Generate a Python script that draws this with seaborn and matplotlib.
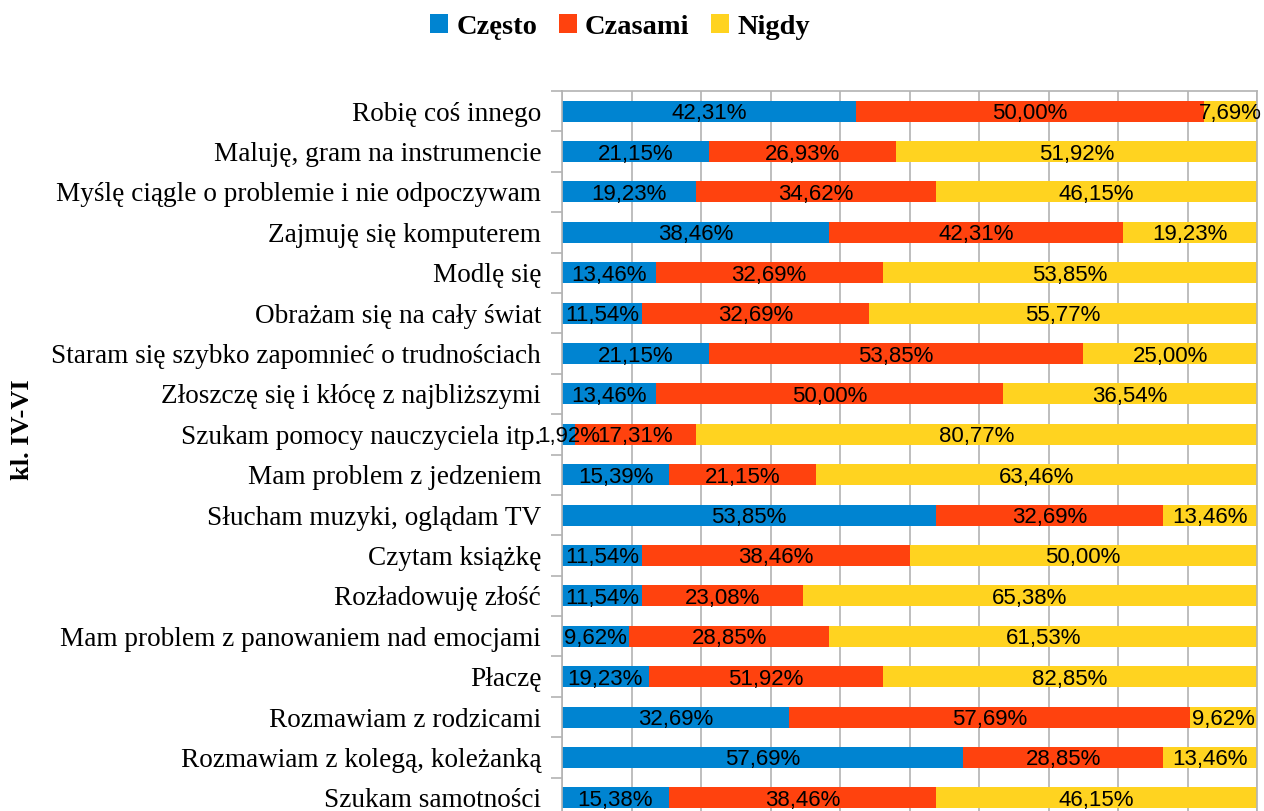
import numpy as np
import pandas as pd
import matplotlib
matplotlib.use("Agg")
import matplotlib.pyplot as plt
from matplotlib.patches import Patch
import seaborn as sns

categories = [
    "Robię coś innego",
    "Maluję, gram na instrumencie",
    "Myślę ciągle o problemie i nie odpoczywam",
    "Zajmuję się komputerem",
    "Modlę się",
    "Obrażam się na cały świat",
    "Staram się szybko zapomnieć o trudnościach",
    "Złoszczę się i kłócę z najbliższymi",
    "Szukam pomocy nauczyciela itp.",
    "Mam problem z jedzeniem",
    "Słucham muzyki, oglądam TV",
    "Czytam książkę",
    "Rozładowuję złość",
    "Mam problem z panowaniem nad emocjami",
    "Płaczę",
    "Rozmawiam z rodzicami",
    "Rozmawiam z kolegą, koleżanką",
    "Szukam samotności",
]
czesto = [42.31, 21.15, 19.23, 38.46, 13.46, 11.54, 21.15, 13.46, 1.92, 15.39,
          53.85, 11.54, 11.54, 9.62, 19.23, 32.69, 57.69, 15.38]
czasami = [50.00, 26.93, 34.62, 42.31, 32.69, 32.69, 53.85, 50.00, 17.31, 21.15,
           32.69, 38.46, 23.08, 28.85, 51.92, 57.69, 28.85, 38.46]
nigdy = [7.69, 51.92, 46.15, 19.23, 53.85, 55.77, 25.00, 36.54, 80.77, 63.46,
         13.46, 50.00, 65.38, 61.53, 82.85, 9.62, 13.46, 46.15]
series_names = ["Często", "Czasami", "Nigdy"]
colors = ["#0084d1", "#ff420e", "#ffd320"]
axis_title = "kl. IV-VI"

sns.set_style("white")
plt.rcParams["font.family"] = ["Liberation Serif", "DejaVu Serif"]
plt.rcParams["text.color"] = "black"
plt.rcParams["ytick.color"] = "black"
plt.rcParams["ytick.labelcolor"] = "black"

raw = np.array([czesto, czasami, nigdy])  # 3 x n
totals = raw.sum(axis=0)
pct = raw / totals * 100.0
cum = np.cumsum(pct, axis=0)

df = pd.DataFrame({"cat": categories})
for k, name in enumerate(series_names):
    df[name + "_cum"] = cum[k]

fig = plt.figure(figsize=(12.64, 8.11), dpi=100)
ax = fig.add_axes([562 / 1264, 1 - 818 / 811, 695 / 1264, 727 / 811])

# draw cumulative layers back to front
for k in reversed(range(3)):
    sns.barplot(data=df, x=series_names[k] + "_cum", y="cat", orient="h",
                color=colors[k], saturation=1, width=0.52, ax=ax, zorder=2,
                linewidth=0, edgecolor="none")

ax.set_xlim(0, 100)
ax.set_ylim(len(categories) - 0.5, -0.5)
ax.set_xlabel("")
ax.set_ylabel("")
ax.set_xticks(np.arange(0, 101, 10))
ax.set_xticklabels([])
ax.xaxis.grid(True, color="#b3b3b3", linewidth=1.2, zorder=0)
ax.set_axisbelow(True)
ax.tick_params(axis="x", length=0)
for s in ax.spines.values():
    s.set_color("#b3b3b3")
    s.set_linewidth(1.2)

ax.set_yticks(np.arange(-0.5, len(categories), 1), minor=True)
ax.tick_params(axis="y", which="minor", length=8, color="#b3b3b3", width=1.2, left=True)
ax.tick_params(axis="y", which="major", length=0, pad=15, labelsize=19.6, labelcolor="black")

# value labels (raw values at segment centres)
for i in range(len(categories)):
    left = 0.0
    for k in range(3):
        w = pct[k, i]
        txt = f"{raw[k, i]:.2f}".replace(".", ",") + "%"
        ax.text(left + w / 2, i, txt, ha="center", va="center_baseline", fontsize=16,
                family="Liberation Sans", color="black", clip_on=False, zorder=5)
        left += w

handles = [Patch(facecolor=c, edgecolor="none") for c in colors]
fig.legend(handles, series_names, loc="center", bbox_to_anchor=(620 / 1264, 1 - 27 / 811),
           ncol=3, frameon=False,
           prop={"family": "Liberation Serif", "weight": "bold", "size": 20.5},
           handlelength=0.63, handleheight=0.63, handletextpad=0.3, columnspacing=0.75)

fig.text(23 / 1264, 1 - 430 / 811, axis_title, rotation=90, ha="center", va="center",
         fontsize=19, fontweight="bold", family="Liberation Serif", color="black")

fig.savefig("out.png", dpi=100)
